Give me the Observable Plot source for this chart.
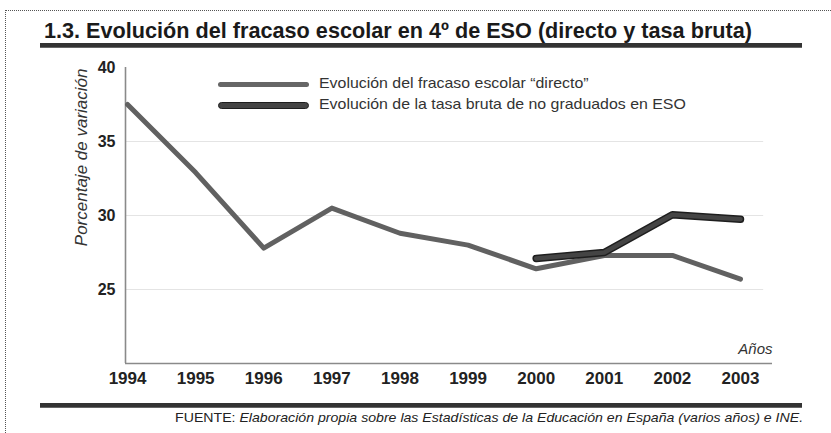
<!DOCTYPE html>
<html>
<head>
<meta charset="utf-8">
<script src="https://cdn.jsdelivr.net/npm/d3@7"></script>
<script src="https://cdn.jsdelivr.net/npm/@observablehq/plot@0.6"></script>
<style>
  html, body { margin: 0; padding: 0; background: #fff; }
  #wrap { position: relative; width: 831px; height: 433px; overflow: hidden; background: #fff; }
  .dotTop { position: absolute; left: 5px; top: 10px; right: 0; border-top: 1px dotted #555; }
  .dotLeft { position: absolute; left: 5px; top: 10px; bottom: 0; border-left: 1px dotted #555; }
  #title { position: absolute; left: 44px; top: 17px; font-family: "Liberation Sans", Arial, sans-serif; font-weight: bold; font-size: 22px; color: #1a1a1a; white-space: nowrap; line-height: 28px; transform-origin: left center; }
  .rule { position: absolute; left: 40px; width: 762px; height: 4px; background: #333; border-bottom: 1px solid #666; }
  #source { position: absolute; right: 28px; top: 410px; font-family: "Liberation Sans", Arial, sans-serif; font-size: 13px; color: #222; white-space: nowrap; transform-origin: right center; }
  #source i { font-style: italic; }
  #chart { position: absolute; left: 0; top: 0; }
  .leg { position: absolute; left: 218px; font-family: "Liberation Sans", Arial, sans-serif; font-size: 15px; color: #333; white-space: nowrap; }
  .sw { position: absolute; left: 0; width: 91px; border-radius: 4px; }
  .lt { position: absolute; left: 101px; top: -10px; transform-origin: left center; transform: scaleX(1.06); }
</style>
</head>
<body>
<div id="wrap">
  <div class="dotTop"></div>
  <div class="dotLeft"></div>
  <div id="chart"></div>
  <div id="title">1.3. Evolución del fracaso escolar en 4º de ESO (directo y tasa bruta)</div>
  <div class="rule" style="top:43px"></div>
  <div class="rule" style="top:403px"></div>
  <div id="legend"></div>
  <div id="source">FUENTE: <i>Elaboración propia sobre las Estadísticas de la Educación en España (varios años) e INE.</i></div>
</div>
<script>
// ---- data ----
const years = [1994, 1995, 1996, 1997, 1998, 1999, 2000, 2001, 2002, 2003];
const directo = [37.5, 32.9, 27.8, 30.5, 28.8, 28.0, 26.4, 27.3, 27.3, 25.7];
const brutaYears = [2000, 2001, 2002, 2003];
const tasaBruta = [27.1, 27.5, 30.05, 29.75];
const seriesNames = [
  "Evolución del fracaso escolar \u201cdirecto\u201d",
  "Evolución de la tasa bruta de no graduados en ESO"
];
const yTicks = [25, 30, 35, 40];
const gridValues = [25, 30, 35];
const yLabel = "Porcentaje de variación";
const xLabel = "Años";
const xDomain = [1993.97, 2003.47];
const gridEnd = 2003.34;
const yDomain = [20, 40];

const d1 = years.map((y, i) => ({year: y, value: directo[i]}));
const d2 = brutaYears.map((y, i) => ({year: y, value: tasaBruta[i]}));

const chart = Plot.plot({
  width: 831,
  height: 433,
  marginTop: 67,
  marginBottom: 70,
  marginLeft: 125,
  marginRight: 59,
  style: {fontFamily: "'Liberation Sans', Arial, sans-serif", color: "#222", background: "transparent", overflow: "visible"},
  x: {domain: xDomain, ticks: years, tickFormat: "d", tickSize: 0, tickPadding: 10, label: null},
  y: {domain: yDomain, ticks: yTicks, tickSize: 0, tickPadding: 10, label: null},
  marks: [
    Plot.ruleY(gridValues, {x1: xDomain[0], x2: gridEnd, stroke: "#e4e4e4", strokeWidth: 1.2}),
    Plot.ruleY([yDomain[0]], {stroke: "#8a8a8a", strokeWidth: 1.6}),
    Plot.ruleX([xDomain[0]], {y1: yDomain[0], y2: yDomain[1], stroke: "#8a8a8a", strokeWidth: 1.6}),
    Plot.axisX({ticks: years, tickFormat: "d", tickSize: 0, tickPadding: 8, fontSize: 17, fontWeight: "bold", label: null}),
    Plot.axisY({ticks: yTicks, tickSize: 0, tickPadding: 10, fontSize: 16, fontWeight: "bold", label: null}),
    Plot.line(d1, {x: "year", y: "value", stroke: "#616161", strokeWidth: 5, strokeLinecap: "round", strokeLinejoin: "round"}),
    Plot.line(d2, {x: "year", y: "value", stroke: "#1e1e1e", strokeWidth: 7.5, strokeLinecap: "round", strokeLinejoin: "round"}),
    Plot.line(d2, {x: "year", y: "value", stroke: "#444", strokeWidth: 4.5, strokeLinecap: "round", strokeLinejoin: "round"}),
    Plot.text([yLabel], {frameAnchor: "top-left", dx: -51, dy: 1, rotate: -90, textAnchor: "end", fontSize: 17, fontStyle: "italic", fill: "#333"}),
    Plot.text([xLabel], {frameAnchor: "bottom-right", dx: 0, dy: -10, textAnchor: "end", fontSize: 15, fontStyle: "italic", fill: "#333"})
  ]
});
document.getElementById("chart").appendChild(chart);

// legend
const leg = document.getElementById("legend");
const legStyles = [
  {top: 84, h: 5, bg: "#666", border: "none"},
  {top: 105, h: 7, bg: "#444", border: "1.5px solid #1e1e1e"}
];
seriesNames.forEach((name, i) => {
  const s = legStyles[i];
  const row = document.createElement("div");
  row.className = "leg";
  row.style.top = s.top + "px";
  const sw = document.createElement("div");
  sw.className = "sw";
  sw.style.top = (-s.h / 2) + "px";
  sw.style.height = s.h + "px";
  sw.style.background = s.bg;
  sw.style.border = s.border;
  sw.style.boxSizing = "border-box";
  const t = document.createElement("div");
  t.className = "lt";
  t.textContent = name;
  row.appendChild(sw);
  row.appendChild(t);
  leg.appendChild(row);
});

// fit text widths to the reference extents
function fitEl(el, target) {
  const w = el.getBoundingClientRect().width;
  if (w > 0) el.style.transform = `scaleX(${target / w})`;
}
fitEl(document.getElementById("title"), 708);
fitEl(document.getElementById("source"), 628);
</script>
</body>
</html>
